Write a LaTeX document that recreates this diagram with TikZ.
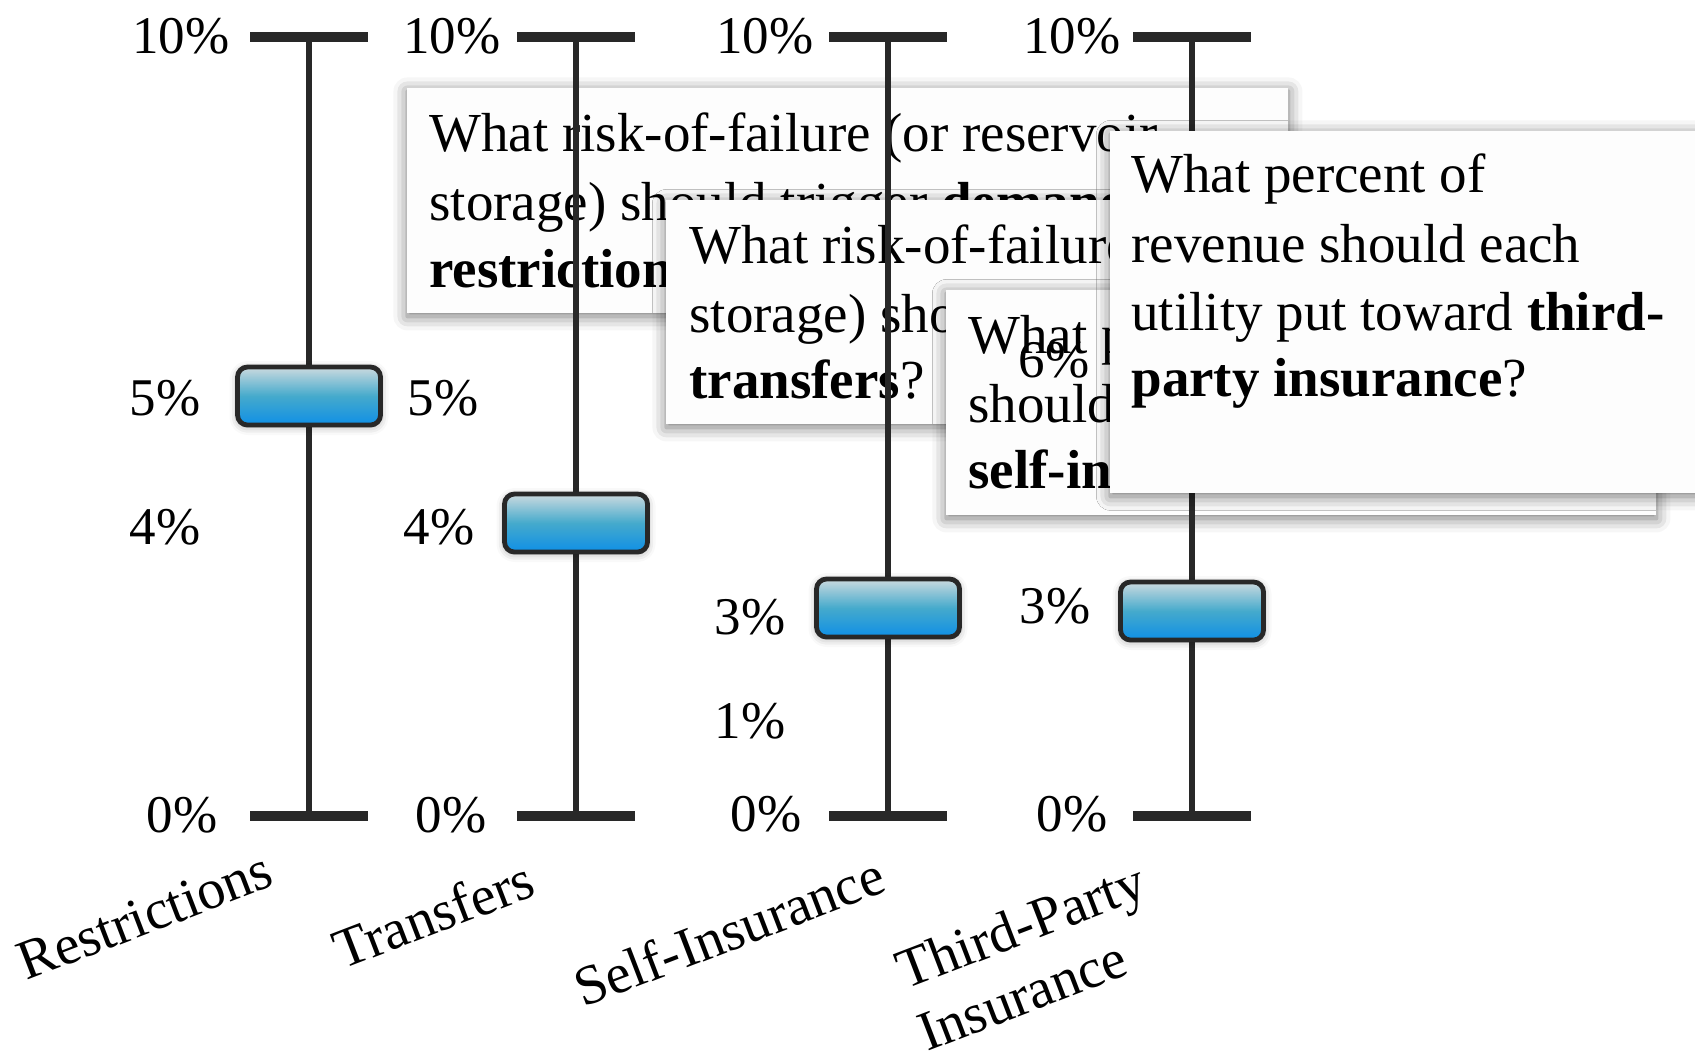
\documentclass[tikz,border=0pt]{standalone}
\usepackage{fontspec}
\setmainfont{Liberation Serif}
\usetikzlibrary{shadows.blur,calc}
\definecolor{ax}{HTML}{282828}
\definecolor{btop}{HTML}{CCDADF}
\definecolor{bmid}{HTML}{45AACC}
\definecolor{bbot}{HTML}{0F8FE6}
\definecolor{tipc}{HTML}{FDFDFD}
\begin{document}
\begin{tikzpicture}[x=0.5pt,y=-0.5pt,
  axisline/.style={draw=ax, line width=3pt},
  capline/.style={draw=ax, line width=5pt},
  qbox/.style={draw=ax, line width=2.4pt, rounded corners=5pt, minimum width=71.5pt, minimum height=29pt, inner sep=0pt,
    top color=btop, bottom color=bbot, middle color=bmid,
    blur shadow={shadow xshift=0pt, shadow yshift=-1pt, shadow blur radius=4pt, shadow opacity=35}},
  val/.style={inner sep=0pt, font=\fontsize{26.5}{30}\selectfont},
  tip/.style={fill=tipc, inner sep=0pt, anchor=north west,
    blur shadow={shadow xshift=0pt, shadow yshift=-1.5pt, shadow blur radius=7pt, shadow opacity=55}},
  tiptext/.style={inner sep=0pt, anchor=base west, font=\fontsize{27.5}{33}\selectfont},
  cat/.style={inner sep=0pt, anchor=base west, rotate=21, font=\fontsize{28}{33}\selectfont}
]
\useasboundingbox (0,0) rectangle (1695,1055);
\clip (0,0) rectangle (1695,1055);

% ---------- series 1: restrictions
\coordinate (t1) at (309,37); \coordinate (b1) at (309,816);
\draw[axisline] (t1) -- (b1);
\draw[capline] ([xshift=-29.5pt]t1) -- ([xshift=29.5pt]t1);
\draw[capline] ([xshift=-29.5pt]b1) -- ([xshift=29.5pt]b1);
\node[qbox] (q1) at (309,396) {};
\node[val] (v1a) at (181,36) {10\%};
\node[val] (v1b) at (165,398) {5\%};
\node[val] (v1c) at (165,527) {4\%};
\node[val] (v1d) at (182,815) {0\%};

\node[tip, minimum width=440.5pt, minimum height=112.5pt] (A) at (407,88) {};
\node[tiptext] (A1) at (429,151) {What risk-of-failure (or reservoir};
\node[tiptext] (A2) at (429,220) {storage) should trigger \textbf{demand}};
\node[tiptext] (A3) at (429,287) {\textbf{restrictions}?};

% ---------- series 2: transfers
\coordinate (t2) at (576,37); \coordinate (b2) at (576,816);
\draw[axisline] (t2) -- (b2);
\draw[capline] ([xshift=-29.5pt]t2) -- ([xshift=29.5pt]t2);
\draw[capline] ([xshift=-29.5pt]b2) -- ([xshift=29.5pt]b2);
\node[qbox] (q2) at (576,523) {};
\node[val] (v2a) at (452,36) {10\%};
\node[val] (v2b) at (443,398) {5\%};
\node[val] (v2c) at (439,527) {4\%};
\node[val] (v2d) at (451,815) {0\%};

\node[tip, minimum width=440.5pt, minimum height=112pt] (B) at (666,200) {};
\node[tiptext] (B1) at (689,263) {What risk-of-failure (or reservoir};
\node[tiptext] (B2) at (689,332) {storage) should trigger};
\node[tiptext] (B3) at (689,398) {\textbf{transfers}?};

% ---------- series 3: self-insurance
\coordinate (t3) at (888,37); \coordinate (b3) at (888,816);
\draw[axisline] (t3) -- (b3);
\draw[capline] ([xshift=-29.5pt]t3) -- ([xshift=29.5pt]t3);
\draw[capline] ([xshift=-29.5pt]b3) -- ([xshift=29.5pt]b3);
\node[qbox] (q3) at (888,608) {};
\node[val] (v3a) at (765,36) {10\%};
\node[val] (v3b) at (750,617) {3\%};
\node[val] (v3c) at (750,721) {1\%};
\node[val] (v3d) at (766,814) {0\%};

\node[tip, minimum width=355pt, minimum height=112.5pt] (C) at (946,290) {};
\node[tiptext] (C1) at (968,353) {What percent of revenue};
\node[tiptext] (C2) at (968,422) {should each utility put toward};
\node[tiptext] (C3) at (968,488) {\textbf{self-insurance}?};

% ---------- series 4: third-party insurance
\coordinate (t4) at (1192,37); \coordinate (b4) at (1192,816);
\draw[axisline] (t4) -- (b4);
\draw[capline] ([xshift=-29.5pt]t4) -- ([xshift=29.5pt]t4);
\draw[capline] ([xshift=-29.5pt]b4) -- ([xshift=29.5pt]b4);
\node[qbox] (q4) at (1192,611) {};
\node[val] (v4a) at (1072,36) {10\%};
\node[val] (v4b) at (1054,360) {6\%};
\node[val] (v4c) at (1055,606) {3\%};
\node[val] (v4d) at (1072,814) {0\%};

\node[tip, minimum width=310pt, minimum height=181pt] (D) at (1110,131) {};
\node[tiptext] (D1) at (1131,192) {What percent of};
\node[tiptext] (D2) at (1131,262) {revenue should each};
\node[tiptext] (D3) at (1131,330) {utility put toward \textbf{third-}};
\node[tiptext] (D4) at (1131,396) {\textbf{party insurance}?};

% ---------- category labels
\node[cat] (c1) at (26,981) {Restrictions};
\node[cat] (c2) at (342,970) {Transfers};
\node[cat] (c3) at (583,1008) {Self-Insurance};
\node[cat] (c4a) at (905,990) {Third-Party};
\node[cat] (c4b) at (927,1052) {Insurance};
\end{tikzpicture}
\end{document}
